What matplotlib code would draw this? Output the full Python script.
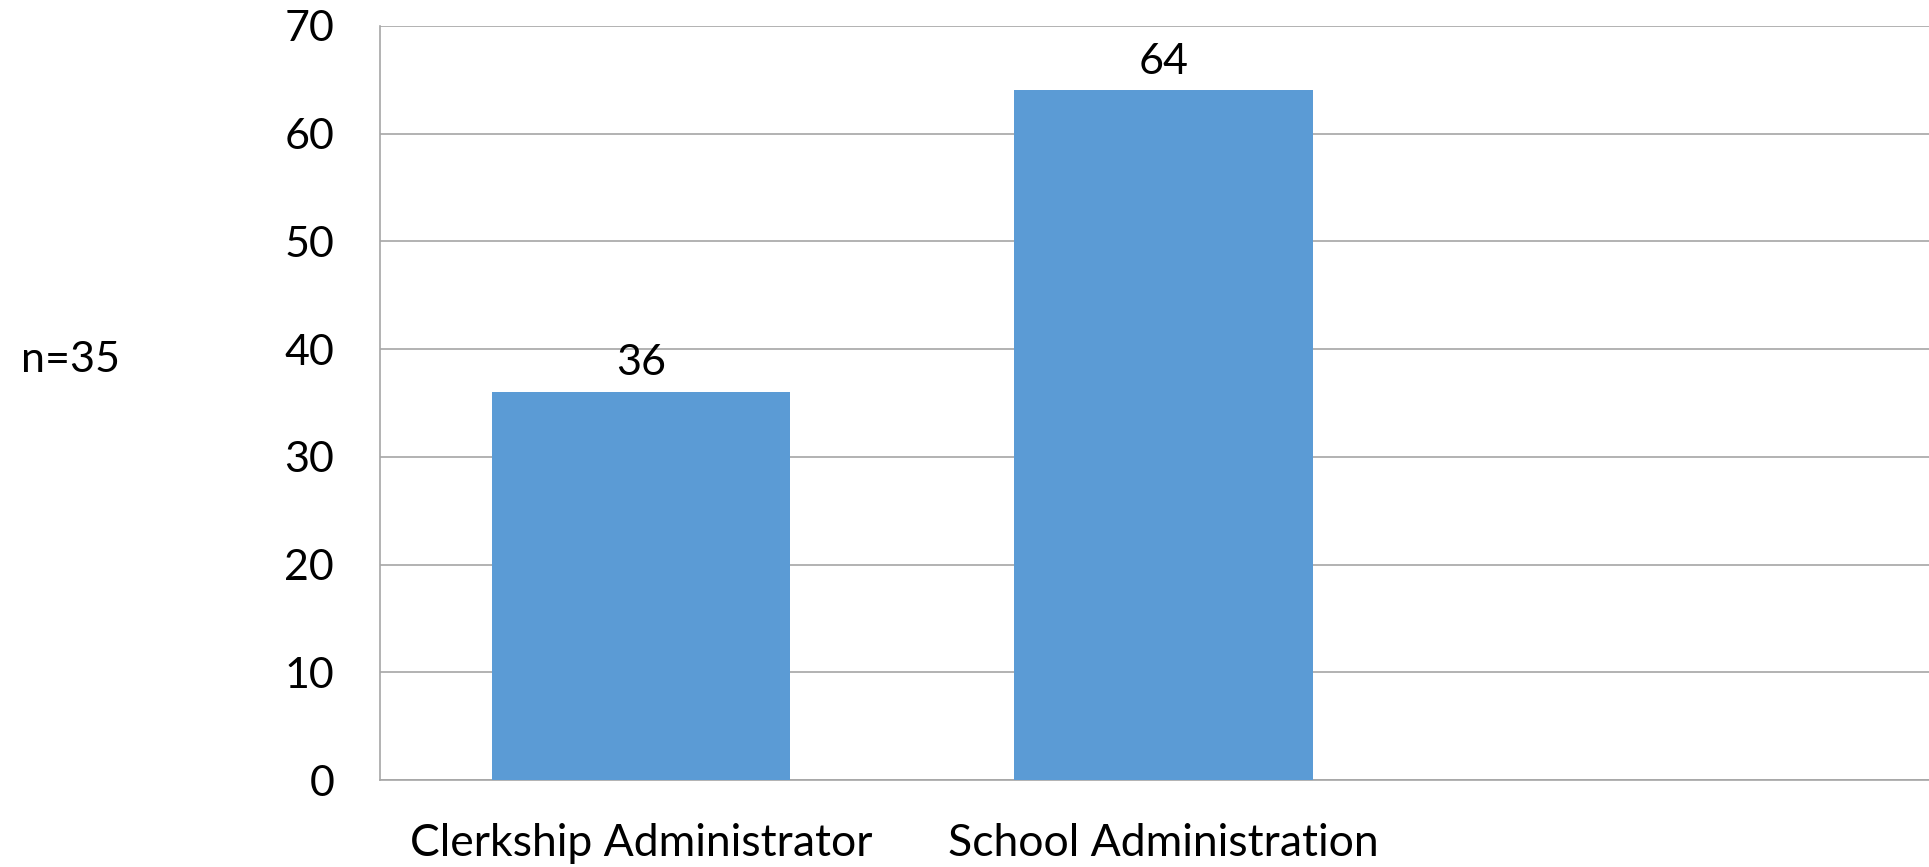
import matplotlib
matplotlib.use("Agg")
import matplotlib.pyplot as plt

categories = ["Clerkship Administrator", "School Administration"]
values = [36, 64]
y_ticks = [0, 10, 20, 30, 40, 50, 60, 70]
note = "n=35"

plt.rcParams["font.family"] = ["Lato", "DejaVu Sans"]

fig = plt.figure(figsize=(19.29, 8.67), dpi=100)
ax = fig.add_axes([0.197, 0.1003, 0.8122, 0.870])

x = list(range(len(categories)))
bars = ax.bar(x, values, width=0.572, color="#5B9BD5", zorder=3)

ax.set_xlim(-0.5, 2.5)
ax.set_ylim(0, 70)
ax.set_yticks(y_ticks)
ax.set_yticklabels([str(t) for t in y_ticks], fontsize=31)
ax.set_xticks(x)
ax.set_xticklabels(categories, fontsize=32)
ax.tick_params(axis="y", length=0, pad=33)
ax.tick_params(axis="x", length=0, pad=31)

ax.yaxis.grid(True, color="#a6a6a6", linewidth=1.2, zorder=0)
ax.set_axisbelow(True)
for side in ["top", "right"]:
    ax.spines[side].set_visible(False)
for side in ["left", "bottom"]:
    ax.spines[side].set_color("#a6a6a6")
    ax.spines[side].set_linewidth(1.2)

for rect, v in zip(bars, values):
    ax.annotate(str(v), (rect.get_x() + rect.get_width() / 2, v),
                xytext=(0, 7), textcoords="offset points",
                ha="center", va="bottom", fontsize=31)

fig.text(21 / 1929, 1 - 360 / 867, note, fontsize=31, ha="left", va="center")

fig.savefig("out.png", dpi=100)
